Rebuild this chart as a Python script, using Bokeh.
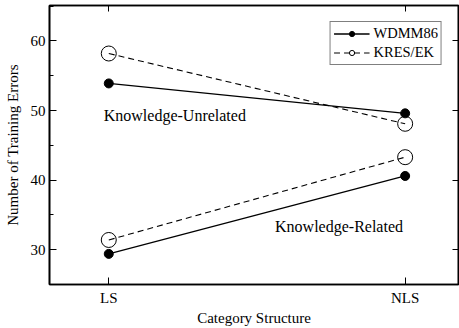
from bokeh.plotting import figure
from bokeh.models import (Range1d, FixedTicker, SingleIntervalTicker, LinearAxis,
                          Legend, LegendItem, Label)
from bokeh.embed import file_html
from bokeh.resources import INLINE

# Mean training errors by category structure
categories = ["LS", "NLS"]
wdmm86_unrelated = [53.9, 49.6]
kres_unrelated = [58.2, 48.1]
wdmm86_related = [29.4, 40.6]
kres_related = [31.4, 43.3]
series_names = ["WDMM86", "KRES/EK"]

xs = list(range(len(categories)))
FONT = "Liberation Serif"

p = figure(width=459, height=328, output_backend="svg", toolbar_location=None,
           x_range=Range1d(-0.2, 1.18), y_range=Range1d(25, 65.1),
           min_border_left=49, min_border_right=1, min_border_top=5,
           min_border_bottom=33, background_fill_color="white",
           border_fill_color="white")
p.grid.visible = False
p.outline_line_color = "black"
p.outline_line_width = 1.6

# bottom axis: category positions
xa = p.xaxis[0]
xa.ticker = FixedTicker(ticks=xs)
xa.major_label_overrides = {i: c for i, c in enumerate(categories)}
xa.minor_tick_line_color = None
xa.major_tick_in = 7
xa.major_tick_out = 0
xa.axis_label = "Category Structure"
xa.axis_label_standoff = 1
xa.major_label_standoff = 5

ya = p.yaxis[0]
ya.ticker = SingleIntervalTicker(interval=10, num_minor_ticks=2)
ya.major_tick_in = 7
ya.major_tick_out = 0
ya.minor_tick_in = 4
ya.minor_tick_out = 0
ya.axis_label = "Number of Training Errors"
ya.axis_label_standoff = 7
ya.major_label_standoff = 4

for ax in (xa, ya):
    ax.axis_line_width = 1.6
    ax.major_tick_line_width = 1
    ax.minor_tick_line_width = 1
    ax.major_label_text_font = FONT
    ax.major_label_text_font_size = "15px"
    ax.major_label_text_color = "black"
    ax.axis_label_text_font = FONT
    ax.axis_label_text_font_size = "15px"
    ax.axis_label_text_font_style = "normal"
    ax.axis_label_text_color = "black"

# mirrored tick marks on top and right, without labels
top_ticks = xs
right_ticks = [30, 40, 50, 60]
top = LinearAxis(ticker=FixedTicker(ticks=top_ticks), major_tick_in=6,
                 major_tick_out=0, minor_tick_line_color=None,
                 major_label_overrides={t: "" for t in top_ticks},
                 major_label_text_font_size="1px",
                 axis_line_width=1.6, major_label_standoff=0)
right = LinearAxis(ticker=FixedTicker(ticks=right_ticks), major_tick_in=6,
                   major_tick_out=0, minor_tick_line_color=None,
                   major_label_overrides={t: "" for t in right_ticks},
                   major_label_text_font_size="1px",
                   axis_line_width=1.6, major_label_standoff=0)
p.add_layout(top, "above")
p.add_layout(right, "right")

# solid series with filled markers
def solid(y):
    ln = p.line(xs, y, line_color="black", line_width=1.3)
    mk = p.scatter(xs, y, size=9, marker="circle", fill_color="black",
                   line_color="black")
    return ln, mk

# dashed series with open markers
def dashed(y):
    ln = p.line(xs, y, line_color="black", line_width=1.1, line_dash="6 4")
    mk = p.scatter(xs, y, size=15, marker="circle", fill_alpha=0,
                   line_color="black", line_width=1)
    return ln, mk

w1 = solid(wdmm86_unrelated)
k1 = dashed(kres_unrelated)
solid(wdmm86_related)
dashed(kres_related)

legend = Legend(items=[LegendItem(label=series_names[0], renderers=list(w1)),
                       LegendItem(label=series_names[1], renderers=list(k1))],
                location="top_right", glyph_width=36, glyph_height=13,
                label_height=13, spacing=2, padding=3, margin=16,
                label_standoff=4, label_text_font=FONT,
                label_text_font_size="14.5px", label_text_color="black",
                label_text_line_height=0.9,
                border_line_color="black", border_line_width=1,
                background_fill_alpha=1)
p.add_layout(legend, "center")

# group annotations
for txt, x, y in [("Knowledge-Unrelated", -0.017, 49.3),
                  ("Knowledge-Related", 0.561, 33.3)]:
    p.add_layout(Label(x=x, y=y, text=txt, text_font=FONT,
                       text_font_size="16px", text_baseline="middle",
                       text_color="black"))

open("out.html", "w").write(file_html(p, INLINE))
